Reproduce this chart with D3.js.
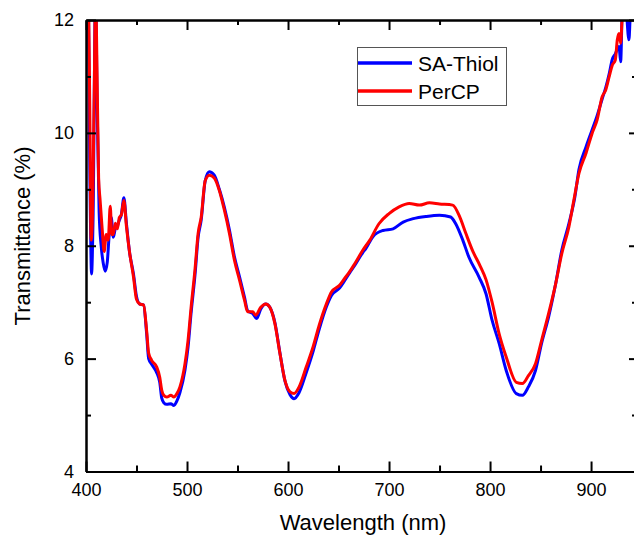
<!DOCTYPE html>
<html>
<head>
<meta charset="utf-8">
<script src="https://cdn.jsdelivr.net/npm/d3@7"></script>
<style>
  body { margin: 0; background: #fff; }
  svg { display: block; font-family: "Liberation Sans", Arial, sans-serif; }
  .axis path, .axis line { stroke: #000; stroke-width: 2; }
  .axis text { font-size: 18px; fill: #000; }
</style>
</head>
<body>
<div id="chart"></div>
<script>
// SA-Thiol (blue) -- wavelength (nm) and transmittance (%)
var thiolNm = [401, 402, 404, 405.5, 407, 409.5, 411, 413, 415, 417, 419, 421, 423, 425, 427, 429, 431, 433, 435, 437.5,
  440, 443, 447, 450, 453, 457, 460, 462, 465, 470, 473, 475, 477, 480, 484, 487, 490, 493, 498, 501,
  504, 508, 511, 514, 518, 522, 527, 532, 537, 542, 547, 552, 557, 560, 565, 569, 573, 578, 582, 587,
  592, 597, 602, 606, 611, 618, 625, 631, 638, 643, 651, 656, 661, 666, 674, 677, 684, 694, 704, 714,
  724, 737, 750, 761, 766, 773, 779, 789, 796, 802, 809, 816, 826, 832, 838, 845, 851, 858, 865, 871,
  878, 884, 888, 895, 901, 905, 911, 914.5, 918, 921, 924, 927.7, 929.3, 931, 934, 937.5, 939, 943];
var thiolT = [12.5, 12.5, 9.0, 7.5, 8.5, 12.5, 10.5, 8.6, 8.0, 7.7, 7.55, 7.7, 8.2, 8.5, 8.15, 8.3, 8.35, 8.45, 8.55, 8.85,
  8.4, 7.9, 7.5, 7.1, 6.97, 6.95, 6.45, 6.0, 5.9, 5.75, 5.58, 5.3, 5.22, 5.19, 5.2, 5.17, 5.25, 5.4, 5.8, 6.2,
  6.8, 7.5, 8.15, 8.45, 9.15, 9.31, 9.25, 9.0, 8.68, 8.28, 7.8, 7.45, 7.08, 6.85, 6.8, 6.71, 6.88, 6.97, 6.91, 6.64,
  6.1, 5.6, 5.36, 5.29, 5.4, 5.75, 6.14, 6.53, 6.92, 7.12, 7.25, 7.38, 7.52, 7.65, 7.88, 7.95, 8.16, 8.27, 8.3, 8.42,
  8.48, 8.52, 8.54, 8.51, 8.39, 8.1, 7.8, 7.45, 7.15, 6.68, 6.27, 5.79, 5.38, 5.35, 5.5, 5.79, 6.27, 6.74, 7.33, 7.92,
  8.39, 8.87, 9.35, 9.75, 10.05, 10.25, 10.6, 10.8, 11.05, 11.3, 11.4, 11.53, 11.26, 12.2, 12.3, 11.65, 12.1, 12.2];

// PerCP (red)
var percpNm = [401, 402, 404, 405, 406, 408, 409.5, 411, 412.5, 414, 416, 418, 420, 422, 424, 425.5, 427, 429, 431, 433,
  435, 437.5, 440, 443, 447, 450, 453, 457, 460, 462, 465, 470, 473, 475, 477, 480, 484, 487, 490, 493,
  498, 501, 504, 508, 511, 514, 518, 522, 527, 532, 537, 542, 547, 552, 557, 560, 565, 568, 573, 578,
  582, 587, 592, 597, 602, 606, 611, 618, 625, 631, 638, 643, 651, 656, 661, 666, 674, 681, 690, 700,
  710, 720, 730, 740, 750, 763, 770, 776, 783, 790, 796, 802, 809, 816, 826, 832, 838, 845, 851, 858,
  865, 871, 878, 883, 888, 895, 901, 906, 911, 914.5, 918, 921, 924, 926, 927.7, 929.3, 931, 935, 943];
var percpT = [12.5, 12.5, 10.0, 8.1, 8.3, 10.5, 12.5, 11.0, 9.2, 8.8, 8.3, 7.9, 8.2, 8.1, 8.7, 8.2, 8.2, 8.4, 8.3, 8.5,
  8.55, 8.8, 8.35, 7.9, 7.45, 7.05, 6.97, 6.95, 6.5, 6.1, 5.97, 5.85, 5.67, 5.44, 5.35, 5.32, 5.35, 5.32, 5.38, 5.5,
  5.91, 6.32, 6.9, 7.6, 8.22, 8.5, 9.15, 9.25, 9.2, 8.98, 8.63, 8.22, 7.74, 7.39, 7.03, 6.83, 6.83, 6.77, 6.91, 6.97,
  6.91, 6.62, 6.09, 5.61, 5.41, 5.38, 5.5, 5.85, 6.22, 6.6, 6.97, 7.18, 7.3, 7.42, 7.54, 7.68, 7.92, 8.1, 8.39, 8.57,
  8.69, 8.75, 8.72, 8.76, 8.74, 8.72, 8.51, 8.22, 7.9, 7.65, 7.4, 7.0, 6.44, 6.03, 5.58, 5.56, 5.7, 5.91, 6.32, 6.8,
  7.33, 7.86, 8.33, 8.81, 9.28, 9.64, 9.99, 10.23, 10.64, 10.76, 11.0, 11.2, 11.29, 11.65, 11.76, 11.59, 12.1, 12.4, 12.5];

var xMajor = [400, 500, 600, 700, 800, 900];
var xMinor = [450, 550, 650, 750, 850];
var yMajor = [4, 6, 8, 10, 12];
var yMinor = [5, 7, 9, 11];
var seriesNames = ["SA-Thiol", "PerCP"];
var seriesColors = ["#0000ff", "#ff0000"];

var W = 634, H = 535;
var plotLeft = 86, plotRight = 635, plotTop = 20, plotBottom = 471.5;

var svg = d3.select("#chart").append("svg")
  .attr("width", W)
  .attr("height", H);

svg.append("rect").attr("width", W).attr("height", H).attr("fill", "#fff");

var x = d3.scaleLinear().domain([400, 943.5]).range([plotLeft, plotRight]);
var y = d3.scaleLinear().domain([4, 12]).range([plotBottom, plotTop]);

svg.append("clipPath").attr("id", "plotclip")
  .append("rect")
  .attr("x", plotLeft).attr("y", plotTop)
  .attr("width", plotRight - plotLeft).attr("height", plotBottom - plotTop);

var line = d3.line()
  .x(function (d) { return x(d[0]); })
  .y(function (d) { return y(d[1]); })
  .curve(d3.curveMonotoneX);

var thiolData = thiolNm.map(function (v, i) { return [v, thiolT[i]]; });
var percpData = percpNm.map(function (v, i) { return [v, percpT[i]]; });

var plot = svg.append("g").attr("clip-path", "url(#plotclip)");
[thiolData, percpData].forEach(function (data, i) {
  plot.append("path")
    .datum(data)
    .attr("fill", "none")
    .attr("stroke", seriesColors[i])
    .attr("stroke-width", 3)
    .attr("stroke-linejoin", "round")
    .attr("d", line);
});

// axes, ticks pointing inward
function addAxis(axisFn, scale, pos, values, size, labels) {
  var a = axisFn(scale).tickValues(values).tickSize(-size).tickSizeOuter(0).tickPadding(12);
  if (!labels) a.tickFormat("");
  else a.tickFormat(d3.format("d"));
  return svg.append("g").attr("class", "axis").attr("transform", pos).call(a);
}

addAxis(d3.axisBottom, x, "translate(0," + plotBottom + ")", xMajor, 10, true);
addAxis(d3.axisBottom, x, "translate(0," + plotBottom + ")", xMinor, 6, false);
addAxis(d3.axisTop, x, "translate(0," + plotTop + ")", xMajor, 10, false);
addAxis(d3.axisTop, x, "translate(0," + plotTop + ")", xMinor, 5, false);
addAxis(d3.axisLeft, y, "translate(" + plotLeft + ",0)", yMajor, 10, true);
addAxis(d3.axisLeft, y, "translate(" + plotLeft + ",0)", yMinor, 5, false);
addAxis(d3.axisRight, y, "translate(" + plotRight + ",0)", yMajor, 6, false);
addAxis(d3.axisRight, y, "translate(" + plotRight + ",0)", yMinor, 3, false);

// axis titles
svg.append("text")
  .attr("x", 363)
  .attr("y", 530)
  .attr("text-anchor", "middle")
  .style("font-size", "22px")
  .text("Wavelength (nm)");

svg.append("text")
  .attr("transform", "translate(30,236) rotate(-90)")
  .attr("text-anchor", "middle")
  .style("font-size", "22px")
  .text("Transmittance (%)");

// legend
var legend = svg.append("g");
legend.append("rect")
  .attr("x", 357.5).attr("y", 47.5)
  .attr("width", 149).attr("height", 58)
  .attr("fill", "#fff")
  .attr("stroke", "#555")
  .attr("stroke-width", 1);

seriesNames.forEach(function (name, i) {
  var ly = 63 + i * 28;
  legend.append("line")
    .attr("x1", 358).attr("x2", 412)
    .attr("y1", ly).attr("y2", ly)
    .attr("stroke", seriesColors[i])
    .attr("stroke-width", 3.5);
  legend.append("text")
    .attr("x", 418)
    .attr("y", ly + 7.5)
    .style("font-size", "21px")
    .text(name);
});
</script>
</body>
</html>
